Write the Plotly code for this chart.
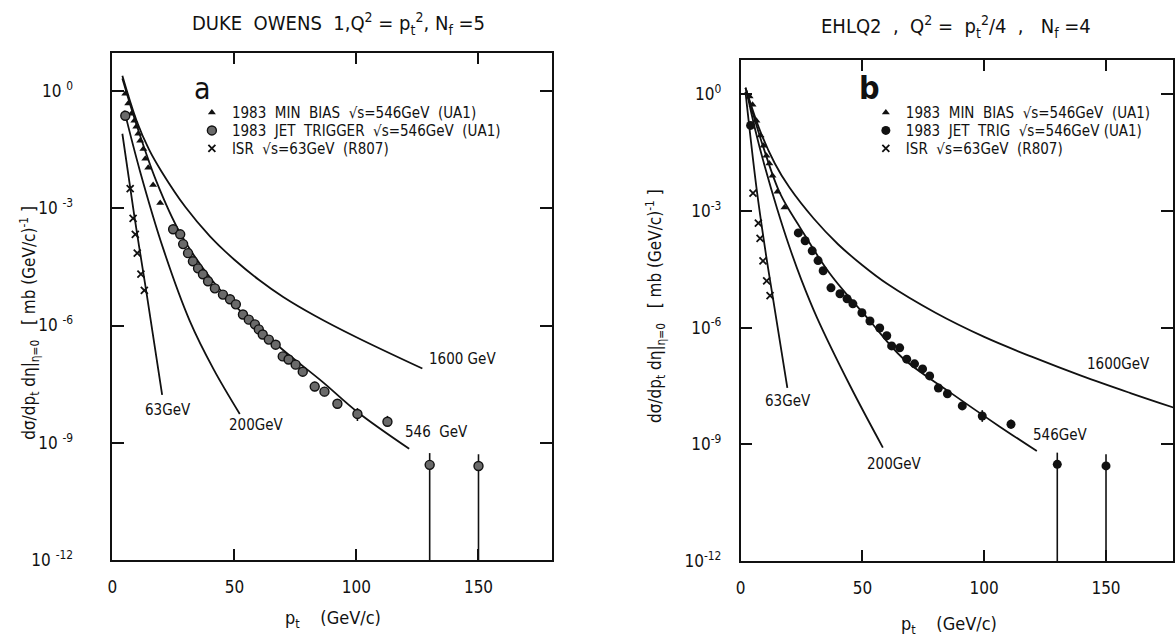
import plotly.graph_objects as go

# ---------------- DATA (pt in GeV/c ; values stored as log10 of dsigma/dpt deta in mb/(GeV/c)) ----------------
# Panel a : Duke-Owens 1
a_minbias_pt = [5.3, 6.5, 7.8, 9.0, 9.8, 10.6, 11.4, 12.7, 13.5, 14.7, 16.7, 19.6]
a_minbias_logy = [-0.08, -0.33, -0.59, -0.77, -0.92, -1.10, -1.28, -1.49, -1.74, -1.97, -2.41, -2.87]

a_jet_pt = [5.3, 24.9, 27.8, 29.0, 31.0, 33.0, 35.1, 37.1, 39.2, 42.0, 45.3, 48.2, 50.6, 53.5, 55.9, 58.4,
            60.0, 61.6, 64.1, 66.9, 69.8, 72.2, 75.1, 78.0, 82.9, 86.9, 92.2, 100.4, 112.7, 130.0, 150.0]
a_jet_logy = [-0.64, -3.54, -3.67, -3.92, -4.15, -4.36, -4.54, -4.69, -4.87, -5.05, -5.21, -5.33, -5.46, -5.72,
              -5.85, -5.97, -6.10, -6.23, -6.36, -6.49, -6.79, -6.87, -7.00, -7.18, -7.56, -7.69, -8.00, -8.26,
              -8.46, -9.56, -9.59]
a_jet_err_up = [0] * 24 + [0.12, 0.12, 0.12, 0.15, 0.15, 0.30, 0.30]
a_jet_err_dn = [0] * 24 + [0.12, 0.12, 0.12, 0.18, 0.0, None, None]  # None = bar reaches the bottom axis

a_isr_pt = [7.3, 8.5, 9.4, 10.2, 11.7, 13.1]
a_isr_logy = [-2.50, -3.26, -3.67, -4.15, -4.69, -5.10]

a_curve_63_pt = [4.1, 9.0, 13.9, 20.4]
a_curve_63_logy = [-1.10, -3.20, -5.13, -7.77]
a_curve_200_pt = [4.9, 11.3, 20.8, 31.7, 41.5, 52.2]
a_curve_200_logy = [-0.51, -2.05, -4.03, -5.88, -7.12, -8.26]
a_curve_546_pt = [4.1, 9.8, 18.0, 27.8, 41.2, 54.7, 69.8, 86.1, 100.4, 121.6]
a_curve_546_logy = [0.31, -0.85, -2.31, -3.64, -4.87, -5.77, -6.62, -7.44, -8.21, -9.15]
a_curve_1600_pt = [4.1, 10.0, 15.0, 20.0, 30.0, 40.0, 50.0, 60.0, 70.0, 83.0, 100.0, 127.0]
a_curve_1600_logy = [0.38, -0.78, -1.50, -2.05, -2.98, -3.72, -4.32, -4.83, -5.27, -5.75, -6.30, -7.10]

# Panel b : EHLQ2
b_minbias_pt = [3.7, 4.9, 6.5, 8.2, 9.4, 10.6, 11.8, 13.1, 15.1, 18.0]
b_minbias_logy = [-0.07, -0.28, -0.69, -1.07, -1.33, -1.59, -1.79, -2.10, -2.51, -2.92]

b_jet_pt = [4.1, 23.7, 26.5, 29.4, 31.8, 33.9, 37.1, 40.8, 43.7, 46.1, 49.8, 53.1, 57.1, 60.0, 62.0, 65.3,
            68.2, 71.4, 74.7, 77.6, 81.2, 84.9, 91.0, 99.2, 111.0, 130.0, 150.0]
b_jet_logy = [-0.81, -3.57, -3.77, -4.03, -4.28, -4.54, -4.98, -5.13, -5.26, -5.39, -5.62, -5.83, -6.01, -6.21,
              -6.47, -6.52, -6.81, -6.93, -7.06, -7.24, -7.55, -7.70, -8.01, -8.27, -8.48, -9.51, -9.55]
b_jet_err_up = [0] * 22 + [0.0, 0.15, 0.12, 0.30, 0.30]
b_jet_err_dn = [0] * 22 + [0.0, 0.15, 0.12, None, None]

b_isr_pt = [5.1, 7.3, 8.0, 9.2, 10.7, 12.1]
b_isr_logy = [-2.55, -3.32, -3.71, -4.29, -4.80, -5.18]

b_curve_63_pt = [2.0, 6.5, 10.6, 13.3, 19.2]
b_curve_63_logy = [0.05, -2.40, -4.20, -5.25, -7.55]
b_curve_200_pt = [2.4, 6.0, 10.0, 15.0, 20.0, 25.0, 31.4, 45.0, 58.4]
b_curve_200_logy = [0.08, -0.92, -1.88, -2.95, -3.92, -4.78, -5.75, -7.50, -9.08]
b_curve_546_pt = [2.0, 9.4, 16.3, 24.5, 36.7, 53.1, 66.5, 85.7, 106.1, 121.6]
b_curve_546_logy = [0.16, -1.38, -2.57, -3.44, -4.62, -5.83, -6.78, -7.65, -8.53, -9.17]
b_curve_1600_pt = [2.0, 8.0, 14.0, 20.0, 30.0, 40.0, 50.0, 60.0, 80.0, 100.0, 120.0, 140.0, 160.0, 180.0]
b_curve_1600_logy = [0.16, -0.95, -1.78, -2.40, -3.20, -3.86, -4.40, -4.87, -5.62, -6.24, -6.76, -7.24, -7.68, -8.10]

y_tick_vals = [1, 1e-3, 1e-6, 1e-9, 1e-12]
a_y_tick_text = ["10 <sup>0</sup>", "10 <sup>-3</sup>", "10 <sup>-6</sup>", "10 <sup>-9</sup>", "10 <sup>-12</sup>"]
b_y_tick_text = ["10<sup>0</sup>", "10<sup>-3</sup>", "10<sup>-6</sup>", "10<sup>-9</sup>", "10<sup>-12</sup>"]
x_tick_vals = [0, 50, 100, 150]
x_tick_text = ["0", "50", "100", "150"]

legend_minbias = "1983  MIN  BIAS  √s=546GeV  (UA1)"
a_legend_jet = "1983  JET  TRIGGER  √s=546GeV  (UA1)"
b_legend_jet = "1983  JET  TRIG  √s=546GeV (UA1)"
legend_isr = "ISR  √s=63GeV  (R807)"

FONT = "DejaVu Sans Condensed, Liberation Sans Narrow, Roboto Condensed, Arial Narrow, sans-serif"
INK = "#111111"
W, H = 1175, 642


def px_x(p):
    return p / W


def px_y(p):
    # vertical pixel position (from top) -> paper fraction, small calibration included
    return 1 - ((p + 0.5) / 0.983) / H


def tv(logs):
    return [10 ** v for v in logs]


def err_arrays(logy, up, dn):
    plus, minus = [], []
    for ly, u, d in zip(logy, up, dn):
        y = 10 ** ly
        plus.append(10 ** (ly + u) - y)
        minus.append(y - 1e-12 if d is None else y - 10 ** (ly - d))
    return plus, minus


fig = go.Figure()


def add_panel(xa, ya, legends, minbias, jet, isr, curves, jet_err, jet_style, jet_label):
    for pts, logs in curves:
        fig.add_trace(go.Scatter(x=pts, y=tv(logs), mode="lines", xaxis=xa, yaxis=ya,
                                 line=dict(color=INK, width=1.8, shape="spline", smoothing=1.0),
                                 showlegend=False, hoverinfo="skip"))
    fig.add_trace(go.Scatter(x=minbias[0], y=tv(minbias[1]), mode="markers", xaxis=xa, yaxis=ya,
                             name=legend_minbias, legend=legends[0],
                             marker=dict(symbol="triangle-up", size=7, color=INK)))
    plus, minus = err_arrays(jet[1], jet_err[0], jet_err[1])
    fig.add_trace(go.Scatter(x=jet[0], y=tv(jet[1]), mode="markers", xaxis=xa, yaxis=ya,
                             name=jet_label, legend=legends[1],
                             error_y=dict(type="data", symmetric=False, array=plus, arrayminus=minus,
                                          color=INK, thickness=1.6, width=0),
                             marker=jet_style))
    fig.add_trace(go.Scatter(x=isr[0], y=tv(isr[1]), mode="markers", xaxis=xa, yaxis=ya,
                             name=legend_isr, legend=legends[2],
                             marker=dict(symbol="x-thin", size=7, color=INK,
                                         line=dict(color=INK, width=1.8))))


add_panel("x", "y", ["legend", "legend2", "legend3"],
          (a_minbias_pt, a_minbias_logy), (a_jet_pt, a_jet_logy), (a_isr_pt, a_isr_logy),
          [(a_curve_63_pt, a_curve_63_logy), (a_curve_200_pt, a_curve_200_logy),
           (a_curve_546_pt, a_curve_546_logy), (a_curve_1600_pt, a_curve_1600_logy)],
          (a_jet_err_up, a_jet_err_dn),
          dict(symbol="circle", size=9, color="#6a6a6a", line=dict(color=INK, width=1.4)),
          a_legend_jet)
add_panel("x2", "y2", ["legend4", "legend5", "legend6"],
          (b_minbias_pt, b_minbias_logy), (b_jet_pt, b_jet_logy), (b_isr_pt, b_isr_logy),
          [(b_curve_63_pt, b_curve_63_logy), (b_curve_200_pt, b_curve_200_logy),
           (b_curve_546_pt, b_curve_546_logy), (b_curve_1600_pt, b_curve_1600_logy)],
          (b_jet_err_up, b_jet_err_dn),
          dict(symbol="circle", size=9, color=INK),
          b_legend_jet)

axis_common = dict(showgrid=False, zeroline=False, showline=True, linecolor=INK, linewidth=1.6,
                   mirror="ticks", ticks="inside", ticklen=12, tickwidth=1.6, tickcolor=INK,
                   tickfont=dict(family=FONT, size=17, color=INK))

layout = dict(
    width=W, height=H, margin=dict(l=0, r=0, t=0, b=0),
    paper_bgcolor="white", plot_bgcolor="white",
    font=dict(family=FONT, color=INK),
    xaxis=dict(domain=[px_x(108), px_x(550)], range=[0, 180], tickvals=x_tick_vals, ticktext=x_tick_text,
               anchor="y", ticklabelstandoff=10, **axis_common),
    yaxis=dict(domain=[px_y(559), px_y(52)], type="log", range=[-12, 0.974], tickvals=y_tick_vals,
               ticktext=a_y_tick_text, anchor="x", ticklabelstandoff=34, **axis_common),
    xaxis2=dict(domain=[px_x(740), 1.0], range=[0, 177.5], tickvals=x_tick_vals, ticktext=x_tick_text,
                anchor="y2", ticklabelstandoff=10, **axis_common),
    yaxis2=dict(domain=[px_y(560), px_y(59)], type="log", range=[-12, 0.88], tickvals=y_tick_vals,
                ticktext=b_y_tick_text, anchor="x2", ticklabelstandoff=14, **axis_common),
)
rows = [112, 130, 148]
for i, name in enumerate(["legend", "legend2", "legend3", "legend4", "legend5", "legend6"]):
    lx = 188 if i < 3 else 866
    layout[name] = dict(x=px_x(lx), y=px_y(rows[i % 3]), xanchor="left", yanchor="middle",
                        bgcolor="rgba(0,0,0,0)", font=dict(family=FONT, size=15, color=INK),
                        itemwidth=30)
fig.update_layout(**layout)

ann = []


def pann(text, x, y, size, angle=0):
    ann.append(dict(text=text, x=px_x(x), y=px_y(y), xref="paper", yref="paper", showarrow=False,
                    xanchor="center", yanchor="middle", textangle=angle,
                    font=dict(family=FONT, size=size, color=INK)))


pann("DUKE  OWENS  1,Q<sup>2</sup> = p<sub>t</sub><sup>2</sup>, N<sub>f</sub> =5", 335, 23, 20)
pann("EHLQ2  ,  Q<sup>2</sup> =  p<sub>t</sub><sup>2</sup>/4  ,   N<sub>f</sub> =4", 957, 26, 20)
ytitle = "dσ/dp<sub>t</sub> dη|<sub>η=0</sub>   [ mb (GeV/c)<sup>-1</sup> ]"
pann(ytitle, 25, 322, 17, -90)
pann(ytitle, 655, 305, 17, -90)
xtitle = "p<sub>t</sub>    (GeV/c)"
pann(xtitle, 330, 618, 18)
pann(xtitle, 950, 624, 18)

lfont = dict(family=FONT, size=15, color=INK)
# curve labels (data coordinates; y as log10)
for xa, ya, x, ly, t in [("x", "y", 143.3, -6.85, "1600 GeV"), ("x", "y", 133.0, -8.72, "546  GeV"),
                         ("x", "y", 22.9, -8.15, "63GeV"), ("x", "y", 59.2, -8.54, "200GeV"),
                         ("x2", "y2", 155.1, -6.93, "1600GeV"), ("x2", "y2", 131.4, -8.76, "546GeV"),
                         ("x2", "y2", 19.6, -7.88, "63GeV"), ("x2", "y2", 63.3, -9.50, "200GeV")]:
    ann.append(dict(text=t, x=x, y=ly, xref=xa, yref=ya, showarrow=False, xanchor="center",
                    yanchor="middle", font=lfont))
ann.append(dict(text="a", x=37.1, y=0.05, xref="x", yref="y", showarrow=False,
                font=dict(family=FONT, size=30, color=INK)))
ann.append(dict(text="<b>b</b>", x=53.1, y=0.14, xref="x2", yref="y2", showarrow=False,
                font=dict(family=FONT, size=32, color=INK)))
fig.update_layout(annotations=ann)

fig.write_html("out.html", config={"displayModeBar": False},
               post_script="document.body.style.margin='0px';")
